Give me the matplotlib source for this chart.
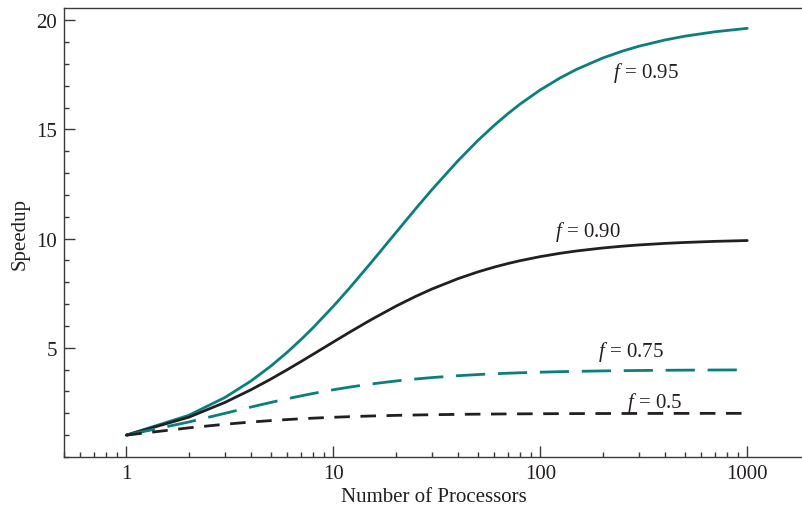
import matplotlib
matplotlib.use("Agg")
import matplotlib.pyplot as plt
from matplotlib.ticker import FixedLocator, LogLocator, NullFormatter, MultipleLocator

plt.rcParams["font.family"] = ["Liberation Serif", "DejaVu Serif"]
plt.rcParams["mathtext.fontset"] = "custom"
plt.rcParams["mathtext.it"] = "Liberation Serif:italic"
plt.rcParams["mathtext.rm"] = "Liberation Serif"

# processor counts and speedups
processors = [1, 2, 3, 4, 5, 6, 7, 8, 10, 12, 15, 20, 25, 30, 40, 50, 60, 70, 80,
              100, 125, 150, 200, 250, 300, 400, 500, 700, 1000]
speedup_95 = [1.0, 1.905, 2.727, 3.478, 4.167, 4.8, 5.385, 5.926, 6.897, 7.742, 8.824,
              10.256, 11.364, 12.245, 13.559, 14.493, 15.19, 15.73, 16.162,
              16.807, 17.361, 17.751, 18.265, 18.587, 18.809, 19.093, 19.268, 19.471, 19.627]
speedup_90 = [1.0, 1.818, 2.5, 3.077, 3.571, 4.0, 4.375, 4.706, 5.263, 5.714, 6.25,
              6.897, 7.353, 7.692, 8.163, 8.475, 8.696, 8.861, 8.989,
              9.174, 9.328, 9.434, 9.569, 9.653, 9.709, 9.78, 9.823, 9.873, 9.911]
speedup_75 = [1.0, 1.6, 2.0, 2.286, 2.5, 2.667, 2.8, 2.909, 3.077, 3.2, 3.333,
              3.478, 3.571, 3.636, 3.721, 3.774, 3.81, 3.836, 3.855,
              3.883, 3.906, 3.922, 3.941, 3.953, 3.96, 3.97, 3.976, 3.983, 3.988]
speedup_50 = [1.0, 1.333, 1.5, 1.6, 1.667, 1.714, 1.75, 1.778, 1.818, 1.846, 1.875,
              1.905, 1.923, 1.935, 1.951, 1.961, 1.967, 1.972, 1.975,
              1.98, 1.984, 1.987, 1.99, 1.992, 1.993, 1.995, 1.996, 1.997, 1.998]

TEAL = "#0b7f7c"
BLACK = "#231f20"
AXIS = "#3a3a3a"

fig = plt.figure(figsize=(8.03, 5.10), dpi=100)
ax = fig.add_axes([0.0797, 0.102, 0.9203, 0.880])

ax.plot(processors, speedup_95, color=TEAL, lw=2.0, solid_capstyle="round", solid_joinstyle="round")
ax.plot(processors, speedup_90, color=BLACK, lw=2.0, solid_capstyle="round", solid_joinstyle="round")
ax.plot(processors, speedup_75, color=TEAL, lw=2.0, dashes=(10.5, 4.6))
ax.plot(processors, speedup_50, color=BLACK, lw=2.0, dashes=(5.6, 3.8))

label_kw = dict(fontsize=15, color="#231f20", ha="left", va="center")
ax.text(225, 17.65, r"$f$ = 0.95", **label_kw)
ax.text(118, 10.34, r"$f$ = 0.90", **label_kw)
ax.text(190, 4.86, r"$f$ = 0.75", **label_kw)
ax.text(263, 2.53, r"$f$ = 0.5", **label_kw)

ax.set_xscale("log")
ax.set_xlim(0.5, 1860)
ax.set_ylim(0, 20.55)

ax.xaxis.set_major_locator(FixedLocator([1, 10, 100, 1000]))
ax.set_xticklabels(["1", "10", "100", "1000"])
ax.xaxis.set_minor_locator(LogLocator(base=10, subs=range(2, 10)))
ax.xaxis.set_minor_formatter(NullFormatter())
ax.yaxis.set_major_locator(FixedLocator([5, 10, 15, 20]))
ax.yaxis.set_minor_locator(MultipleLocator(1))

ax.tick_params(which="both", direction="in", color=AXIS, labelsize=15,
               labelcolor="#231f20", width=1.0)
ax.tick_params(which="major", length=8, pad=5)
ax.tick_params(which="minor", length=3.8)

for side in ["left", "bottom", "top"]:
    ax.spines[side].set_color(AXIS)
    ax.spines[side].set_linewidth(1.0)
ax.spines["right"].set_visible(False)

ax.set_xlabel("Number of Processors", fontsize=15, color="#231f20", labelpad=3)
ax.set_ylabel("Speedup", fontsize=15, color="#231f20", labelpad=5)

fig.savefig("out.png", dpi=100)
